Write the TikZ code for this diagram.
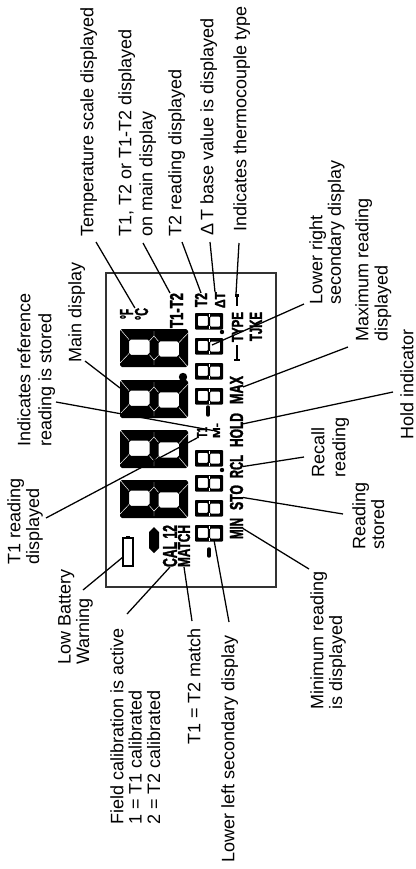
\documentclass[tikz,border=0pt]{standalone}
\usepackage{fontspec}
\usepackage{graphicx}
\setmainfont{Liberation Sans}
\newfontface\lcdf{Liberation Sans Bold}[FakeBold=2.2]
\tikzset{
  lbl/.style={rotate=90,anchor=north west,inner sep=0pt,align=left,text=black,
    font=\fontsize{13.5}{#1}\selectfont},
  lbl/.default=14.5,
  conn/.style={draw=black,line width=0.95pt},
  lcd/.style={inner sep=0pt,outer sep=0pt},
  frameline/.style={draw=black!80,line width=1.1pt},
  seam/.style={draw=white,line width=0.35pt}
}
% big seven-segment digit, rotated, top at small x
\newcommand\bigdigit[2]{%
  \begin{scope}[shift={(#1,#2)}]
  \begin{scope}[x={(0.75pt,-0.045pt)},y={(0pt,-0.75pt)}]
    \fill[black,even odd rule,rounded corners=1.4pt]
      (0,0) rectangle (68,34) (9,10) rectangle (29.5,24) (38.5,10) rectangle (59,24);
    \draw[seam] (0,0)--(9,10) (0,34)--(9,24) (68,0)--(59,10) (68,34)--(59,24)
      (29.5,10)--(34,5) (38.5,10)--(34,5) (29.5,24)--(34,29) (38.5,24)--(34,29)
      (34,0)--(34,5) (34,34)--(34,29);
  \end{scope}\end{scope}}
% small digit
\newcommand\smalldigit[2]{%
  \begin{scope}[shift={(#1,#2)}]
  \begin{scope}[x={(0.75pt,-0.04pt)},y={(0pt,-0.75pt)}]
    \fill[black,even odd rule,rounded corners=0.7pt]
      (0,0) rectangle (28,15) (2.8,2.8) rectangle (12.9,12.2) (15.1,2.8) rectangle (25.2,12.2);
    \draw[seam,line width=0.25pt] (14,0)--(14,2.8) (14,15)--(14,12.2);
  \end{scope}\end{scope}}
% bold squeezed LCD legend: name, xmin, ymin, xmax, ymax, text
\newcommand\lcdlabel[6]{%
  \pgfmathsetlengthmacro\lcdw{(#5-#3)*0.75}%
  \pgfmathsetlengthmacro\lcdh{(#4-#2)*0.75}%
  \node[lcd] (#1) at ({(#2+#4)/2},{(#3+#5)/2})
    {\rotatebox{90}{\resizebox{\lcdw}{\lcdh}{\lcdf #6}}};}
\begin{document}
\begin{tikzpicture}[x=0.75pt,y=-0.75pt]
\useasboundingbox (0,0) rectangle (416,869);
\fill[white] (0,0) rectangle (416,869);

% LCD frame
\draw[frameline] (106,273) rectangle (276,587);

% main digits
\bigdigit{120}{329}
\bigdigit{120}{380}
\bigdigit{120}{430}
\bigdigit{120}{480}
\fill[black] (183,377) circle (4.2);

% secondary digits
\smalldigit{195}{313}
\smalldigit{195}{338}
\smalldigit{195}{363}
\smalldigit{195}{388}
\fill[black] (222,332) circle (2.2);
\draw[black,line width=2.6pt,line cap=round] (208,407)--(208,415);
\smalldigit{195}{450}
\smalldigit{195}{475}
\smalldigit{195}{500}
\smalldigit{195}{525}
\fill[black] (222,470) circle (2.2);
\draw[black,line width=2.6pt,line cap=round] (209,549)--(209,556);

% LCD legends
\lcdlabel{lcdF}{120}{309}{133}{319}{°F}
\lcdlabel{lcdC}{135}{308}{148}{320}{°C}
\lcdlabel{lcdTT}{170}{293}{183}{328}{T1-T2}
\lcdlabel{lcdTtwo}{195}{293}{207}{307}{T2}
\lcdlabel{lcdDT}{215}{292}{225}{308}{ΔT}
\lcdlabel{lcdType}{232}{312}{243}{342}{TYPE}
\lcdlabel{lcdTJKE}{250}{312}{262}{341}{TJKE}
\lcdlabel{lcdMax}{230}{376}{243}{404}{MAX}
\lcdlabel{lcdHold}{230}{413}{243}{447}{HOLD}
\lcdlabel{lcdM}{213}{423}{220}{438}{M-}
\lcdlabel{lcdTone}{197}{427}{207}{438}{T1}
\lcdlabel{lcdRcl}{230}{455}{243}{478}{RCL}
\lcdlabel{lcdSto}{230}{485}{243}{510}{STO}
\lcdlabel{lcdMin}{230}{518}{243}{539}{MIN}
\lcdlabel{lcdCal}{163}{525}{177}{567}{CAL 12}
\lcdlabel{lcdMatch}{178}{525}{190}{567}{MATCH}

% TYPE rules
\draw[black,line width=1.4pt] (237,295)--(237,306) (237,345)--(237,360);
\fill[black] (235,294) rectangle (239,297);
\draw[black,line width=1.2pt] (234,360)--(240,360);

% blob and battery
\fill[black] (149,532)--(154,527)--(159,532)--(159,548)--(154,553)--(149,548)--cycle;
\node[draw=black,line width=1.1pt,minimum width=7.5pt,minimum height=21pt,inner sep=0pt,outer sep=0pt] (batt) at (128,552) {};
\fill[black] (126,536) rectangle (130,538);

% outside labels
\node[lbl] (lTemp) at (80,237) {Temperature scale displayed};
\node[lbl=15.8] (lTT) at (118,237) {T1, T2 or T1-T2 displayed\\on main display};
\node[lbl] (lTtwo) at (168,237) {T2 reading displayed};
\node[lbl] (lDT) at (200,236) {Δ\,T base value is displayed};
\node[lbl] (lType) at (233,232) {Indicates thermocouple type};
\node[lbl=14] (lRight) at (309,305) {Lower right\\secondary display};
\node[lbl=14.5] (lMax) at (355,342) {Maximum reading\\displayed};
\node[lbl] (lHold) at (400,440) {Hold indicator};
\node[lbl=15.8] (lRecall) at (311,478) {Recall\\reading};
\node[lbl=14.2] (lStored) at (352,550) {Reading\\stored};
\node[lbl=14.2] (lMin) at (310,710) {Minimum reading\\is displayed};
\node[lbl=13.8] (lBatt) at (58,665) {Low Battery\\Warning};
\node[lbl=13.8] (lField) at (110,825) {Field calibration is active\\1 = T1 calibrated\\2 = T2 calibrated};
\node[lbl] (lMatch) at (187,745) {T1 = T2 match};
\node[lbl] (lLeft) at (221,863) {Lower left secondary display};
\node[lbl] (lMain) at (68,363) {Main display};
\node[lbl=15.8] (lRef) at (17,447) {Indicates reference\\reading is stored};
\node[lbl=14.2] (lTone) at (7,565) {T1 reading\\displayed};

% connector free ends
\coordinate (cTemp) at (96,242);
\coordinate (cTT) at (143,243);
\coordinate (cTtwo) at (182,242);
\coordinate (cDT) at (210,242);
\coordinate (cType) at (239,243);
\coordinate (typeTop) at (236,294);
\coordinate (cRight) at (304,304);
\coordinate (rightDisp) at (212,345);
\coordinate (cMax) at (348,347);
\coordinate (cHold) at (393,392);
\coordinate (cRecall) at (304,457);
\coordinate (cStored) at (343,514);
\coordinate (cMin) at (309,569);
\coordinate (cLeft) at (229,622);
\coordinate (leftDisp) at (214,540);
\coordinate (cMatch) at (192,621);
\coordinate (cField) at (127,614);
\coordinate (cBatt) at (83,590);
\coordinate (cTone) at (46,518);
\coordinate (cRef) at (56,402);
\coordinate (cMain) at (85,361);
\coordinate (mainDisp) at (120,388);

% connectors
\draw[conn] (cTemp) -- (lcdC.north west);
\draw[conn] (cTT) -- (lcdTT.north west);
\draw[conn] (cTtwo) -- (lcdTtwo.north);
\draw[conn] (cDT) -- (lcdDT.north west);
\draw[conn] (cType) -- (typeTop);
\draw[conn] (cRight) -- (rightDisp);
\draw[conn] (cMax) -- (lcdMax.25);
\draw[conn] (cHold) -- (lcdHold.43);
\draw[conn] (cRecall) -- (lcdRcl.east);
\draw[conn] (cStored) -- (lcdSto.east);
\draw[conn] (cMin) -- (lcdMin.east);
\draw[conn] (cLeft) -- (leftDisp);
\draw[conn] (cMatch) -- (lcdMatch.south);
\draw[conn] (cField) -- (lcdCal.south);
\draw[conn] (cBatt) -- (batt.225);
\draw[conn] (cTone) -- (lcdTone.south west);
\draw[conn] (cRef) -- (lcdM.west);
\draw[conn] (cMain) -- (mainDisp);
\end{tikzpicture}
\end{document}
